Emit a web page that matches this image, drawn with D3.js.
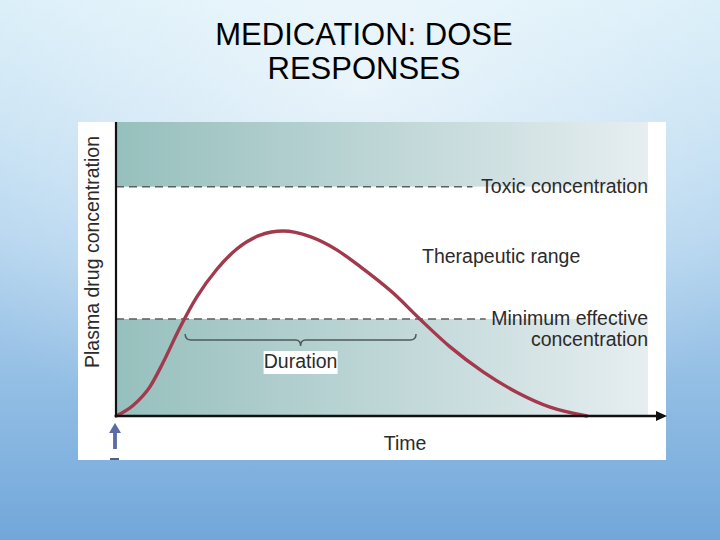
<!DOCTYPE html>
<html>
<head>
<meta charset="utf-8">
<script src="https://cdn.jsdelivr.net/npm/d3@7"></script>
<style>
  html, body { margin: 0; padding: 0; }
  svg { display: block; }
</style>
</head>
<body>
<script>
// values (time and concentration in arbitrary units, 0-100)
const time = [0, 3.2, 6.4, 8.8, 12.0, 15.2, 19.0, 22.7, 27.1, 31.4, 36.5, 41.5, 45.9, 52.1, 57.1, 62.8, 69.0, 75.4, 81.6, 88.5];
const concentration = [0, 3.6, 10.0, 18.0, 30.0, 40.5, 50.0, 56.8, 61.5, 62.9, 61.0, 56.5, 50.8, 41.8, 33.0, 23.5, 15.0, 8.0, 3.0, 0];
const toxicLevel = 78;
const mecLevel = 33;
const durationStart = 13;   // where the curve first passes the minimum effective level
const durationEnd = 56.4;   // where it falls back below it

const titleLines = ['MEDICATION: DOSE', 'RESPONSES'];
const yLabel = 'Plasma drug concentration';
const xLabel = 'Time';

const W = 720, H = 540;
const svg = d3.select('body').append('svg')
  .attr('width', W)
  .attr('height', H)
  .attr('xmlns', 'http://www.w3.org/2000/svg');

const defs = svg.append('defs');

// slide background
const bg = defs.append('linearGradient').attr('id', 'bg').attr('x1', 0).attr('y1', 0).attr('x2', 0).attr('y2', 1);
bg.append('stop').attr('offset', '0%').attr('stop-color', '#d6edf8');
bg.append('stop').attr('offset', '45%').attr('stop-color', '#b1d3ee');
bg.append('stop').attr('offset', '100%').attr('stop-color', '#72a7da');
const glow = defs.append('radialGradient').attr('id', 'glow')
  .attr('cx', 0.5).attr('cy', 0.15).attr('r', 0.7);
glow.append('stop').attr('offset', '0%').attr('stop-color', '#ffffff').attr('stop-opacity', 0.6);
glow.append('stop').attr('offset', '100%').attr('stop-color', '#ffffff').attr('stop-opacity', 0);

// band shading fades from teal to pale grey
const band = defs.append('linearGradient').attr('id', 'band').attr('x1', 0).attr('y1', 0).attr('x2', 1).attr('y2', 0);
band.append('stop').attr('offset', '0%').attr('stop-color', '#96c0bd');
band.append('stop').attr('offset', '55%').attr('stop-color', '#c2d8d9');
band.append('stop').attr('offset', '100%').attr('stop-color', '#e6eef0');

svg.append('rect').attr('width', W).attr('height', H).attr('fill', 'url(#bg)');
svg.append('rect').attr('width', W).attr('height', H).attr('fill', 'url(#glow)');

// title
svg.append('g')
  .selectAll('text')
  .data(titleLines)
  .enter().append('text')
  .attr('x', 364)
  .attr('y', (d, i) => 45 + i * 34)
  .attr('text-anchor', 'middle')
  .style('font-family', '"Liberation Sans", Arial, sans-serif')
  .style('font-size', '31px')
  .style('fill', '#000')
  .text(d => d);

// the figure card
svg.append('rect')
  .attr('x', 78).attr('y', 122)
  .attr('width', 588).attr('height', 338)
  .attr('fill', '#ffffff');

const x = d3.scaleLinear().domain([0, 100]).range([116, 648]);
const y = d3.scaleLinear().domain([0, 100]).range([416, 122]);

const fontFam = '"Liberation Sans", Arial, Helvetica, sans-serif';

// shaded bands: above toxic and below minimum effective
svg.append('rect')
  .attr('x', x(0)).attr('y', y(100))
  .attr('width', x(100) - x(0)).attr('height', y(toxicLevel) - y(100))
  .attr('fill', 'url(#band)');
svg.append('rect')
  .attr('x', x(0)).attr('y', y(mecLevel))
  .attr('width', x(100) - x(0)).attr('height', y(0) - y(mecLevel))
  .attr('fill', 'url(#band)');

// dashed threshold lines
svg.append('line')
  .attr('x1', x(0)).attr('x2', x(67))
  .attr('y1', y(toxicLevel)).attr('y2', y(toxicLevel))
  .attr('stroke', '#5a5f60').attr('stroke-width', 1.6)
  .attr('stroke-dasharray', '8,5');
svg.append('line')
  .attr('x1', x(0)).attr('x2', x(69.5))
  .attr('y1', y(mecLevel)).attr('y2', y(mecLevel))
  .attr('stroke', '#5a5f60').attr('stroke-width', 1.3)
  .attr('stroke-dasharray', '8,5');

// labels
const lab = (t, px, py, anchor) => svg.append('text')
  .attr('x', px).attr('y', py)
  .attr('text-anchor', anchor)
  .style('font-family', fontFam)
  .style('font-size', '19.5px')
  .style('fill', '#2b2b2b')
  .text(t);
lab('Toxic concentration', x(100), y(toxicLevel) + 6, 'end');
lab('Therapeutic range', 422, 263, 'start');
lab('Minimum effective', x(100), y(mecLevel) + 6, 'end');
lab('concentration', x(100), y(mecLevel) + 27, 'end');
lab(xLabel, 405, 450, 'middle');

svg.append('text')
  .attr('transform', 'translate(99,' + 252 + ')rotate(-90)')
  .attr('text-anchor', 'middle')
  .style('font-family', fontFam)
  .style('font-size', '19.5px')
  .style('fill', '#2b2b2b')
  .text(yLabel);

// duration brace
const bx0 = x(durationStart), bx1 = x(durationEnd), bxm = (bx0 + bx1) / 2, by = 340;
svg.append('path')
  .attr('d', 'M' + bx0 + ',' + (by - 6) +
    'Q' + bx0 + ',' + by + ' ' + (bx0 + 6) + ',' + by +
    'L' + (bxm - 5) + ',' + by +
    'Q' + bxm + ',' + by + ' ' + bxm + ',' + (by + 6) +
    'Q' + bxm + ',' + by + ' ' + (bxm + 5) + ',' + by +
    'L' + (bx1 - 6) + ',' + by +
    'Q' + bx1 + ',' + by + ' ' + bx1 + ',' + (by - 6))
  .attr('fill', 'none')
  .attr('stroke', '#4f5a5b')
  .attr('stroke-width', 1.5);

svg.append('rect')
  .attr('x', bxm - 37).attr('y', 351)
  .attr('width', 74).attr('height', 23)
  .attr('fill', '#ffffff');
svg.append('text')
  .attr('x', bxm).attr('y', 368)
  .attr('text-anchor', 'middle')
  .style('font-family', fontFam)
  .style('font-size', '19.5px')
  .style('fill', '#2b2b2b')
  .text('Duration');

// concentration curve
const pts = time.map((t, i) => [t, concentration[i]]);
svg.append('path')
  .datum(pts)
  .attr('d', d3.line()
    .x(d => x(d[0]))
    .y(d => y(d[1]))
    .curve(d3.curveMonotoneX))
  .attr('fill', 'none')
  .attr('stroke', '#a3394c')
  .attr('stroke-width', 3.4)
  .attr('stroke-linecap', 'round');

// axes
svg.append('line')
  .attr('x1', x(0)).attr('x2', x(0))
  .attr('y1', y(100)).attr('y2', y(0) + 1)
  .attr('stroke', '#111').attr('stroke-width', 2.2);
svg.append('line')
  .attr('x1', x(0) - 1).attr('x2', 658)
  .attr('y1', y(0)).attr('y2', y(0))
  .attr('stroke', '#111').attr('stroke-width', 2.4);
svg.append('path')
  .attr('d', 'M656,' + (y(0) - 5) + 'L667,' + y(0) + 'L656,' + (y(0) + 5) + 'Z')
  .attr('fill', '#111');

// dose arrow
svg.append('line')
  .attr('x1', x(0) - 1).attr('x2', x(0) - 1)
  .attr('y1', 449).attr('y2', 430)
  .attr('stroke', '#5a6ba6').attr('stroke-width', 3.8);
svg.append('path')
  .attr('d', 'M' + (x(0) - 7) + ',433L' + (x(0) - 1) + ',423L' + (x(0) + 5) + ',433Z')
  .attr('fill', '#5a6ba6');
svg.append('rect')
  .attr('x', x(0) - 6).attr('y', 458)
  .attr('width', 9).attr('height', 2)
  .attr('fill', '#55607a');
</script>
</body>
</html>
